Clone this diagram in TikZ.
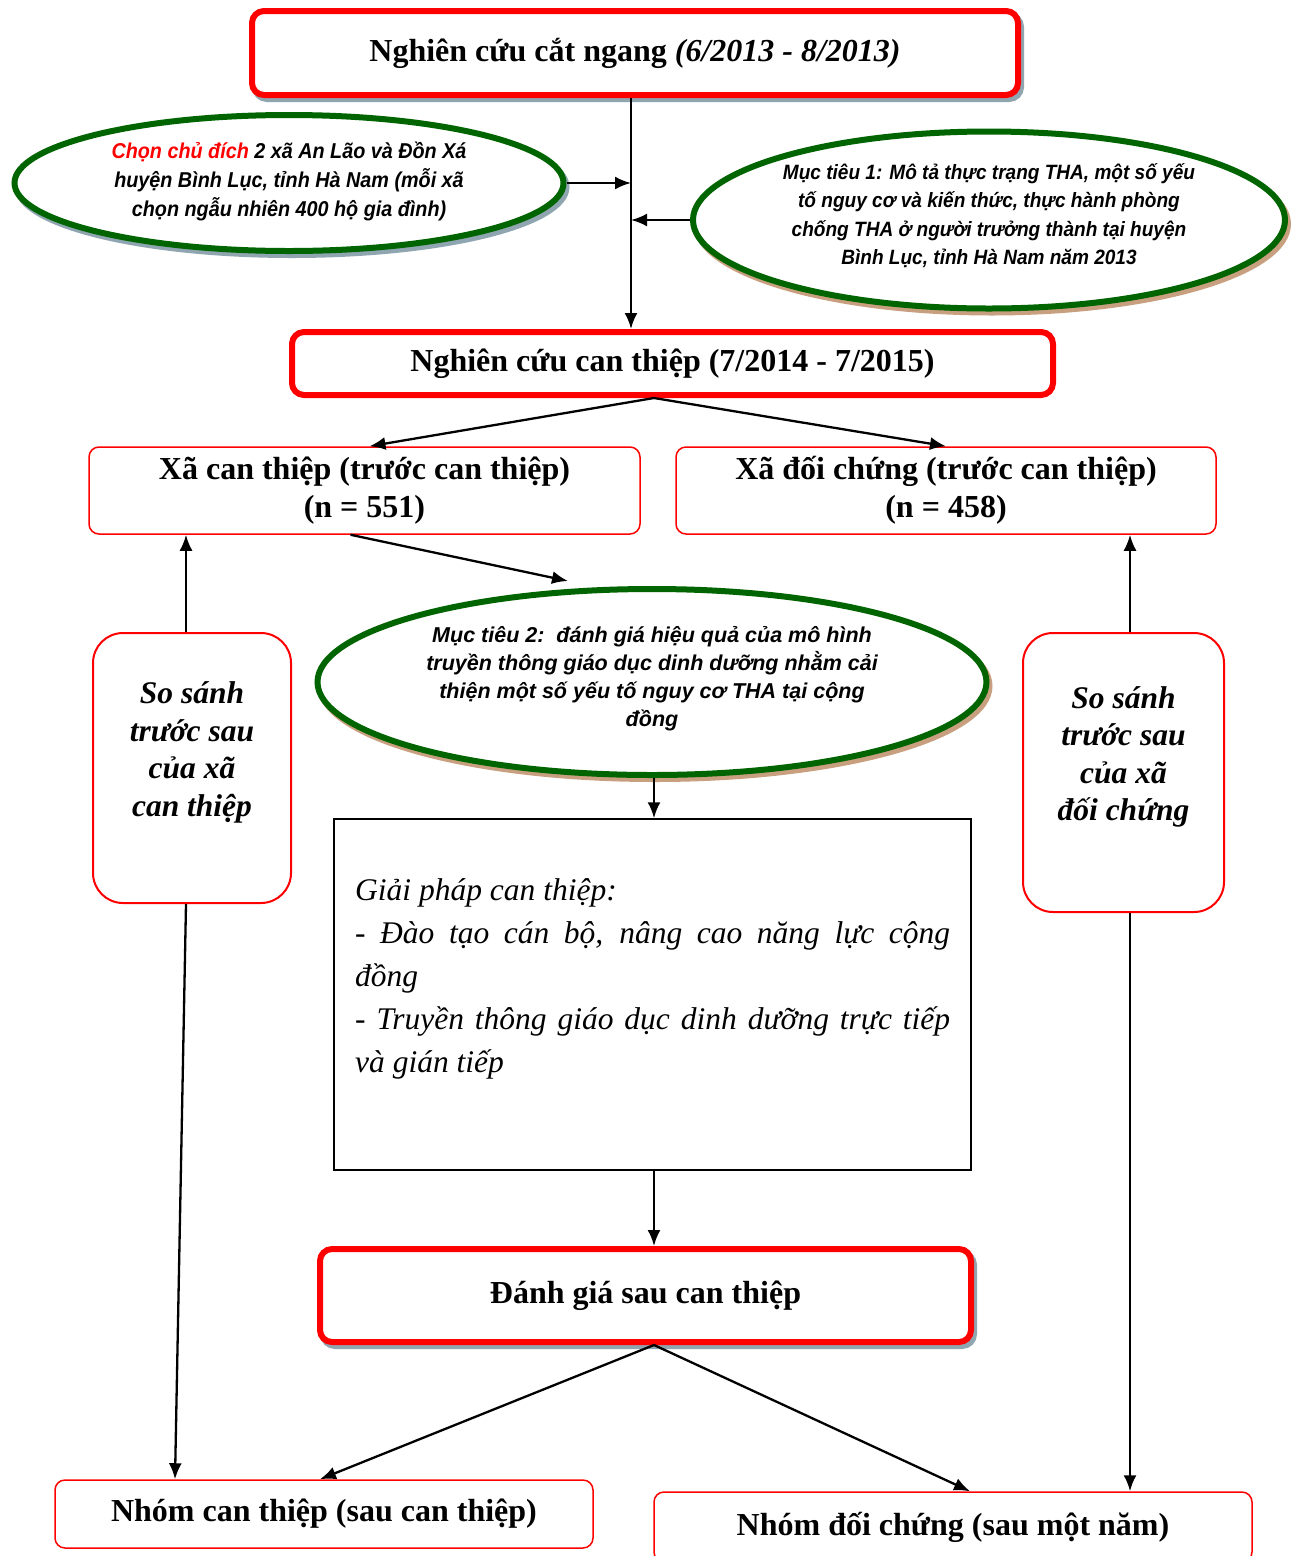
\documentclass[tikz,border=0pt]{standalone}
\usepackage{fontspec}
\setmainfont{Liberation Serif}
\newfontfamily\ellfont{Liberation Sans}[FakeStretch=0.92]
\newfontfamily\ellfontw{Liberation Sans}
\usetikzlibrary{shapes.geometric,arrows.meta}
\definecolor{dgreen}{RGB}{0,100,0}
\definecolor{shgrey}{RGB}{143,165,176}
\definecolor{shtan}{RGB}{200,160,128}
\begin{document}
\begin{tikzpicture}[x=1pt,y=-1pt,
  thickbox/.style={draw=red, line width=6pt, rounded corners=12pt, fill=white, inner sep=0pt,
    text height=23pt, text depth=7pt, font=\bfseries\fontsize{32}{38}\selectfont},
  greyshadow/.style={preaction={draw=shgrey, line width=6pt, transform canvas={shift={(3pt,-4pt)}}}},
  tanshadow/.style={preaction={draw=shtan, line width=6pt, transform canvas={shift={(3pt,-4pt)}}}},
  ell/.style={ellipse, draw=dgreen, line width=6pt, fill=white, inner sep=0pt, align=center},
  thinbox/.style={draw=red, line width=1.5pt, rounded corners=10pt, inner sep=0pt, align=center,
    font=\bfseries\fontsize{32}{38}\selectfont},
  sidebox/.style={draw=red, line width=2pt, rounded corners=30pt, inner sep=0pt, align=center,
    font=\bfseries\itshape\fontsize{31.5}{37.5}\selectfont},
  arr/.style={-{Latex[length=16pt,width=13pt]}, line width=2.3pt}]
\clip (0,0) rectangle (1302,1556);
\fill[white] (0,0) rectangle (1302,1556);

% nodes
\node[thickbox, greyshadow, minimum width=766pt, minimum height=84pt] (top) at (635,53)
  {Nghiên cứu cắt ngang \textit{(6/2013 - 8/2013)}};
\node[ell, greyshadow, minimum width=549pt, minimum height=136pt,
  font=\ellfont\bfseries\itshape\fontsize{21.5}{29}\selectfont] (e1) at (289,183)
  {{\color{red}Chọn chủ đích} 2 xã An Lão và Đồn Xá\\huyện Bình Lục, tỉnh Hà Nam (mỗi xã\\chọn ngẫu nhiên 400 hộ gia đình)\\[-21pt]\mbox{}};
\node[ell, tanshadow, minimum width=592pt, minimum height=177pt,
  font=\ellfont\bfseries\itshape\fontsize{20.7}{28.5}\selectfont] (e2) at (989,220)
  {Mục tiêu 1: Mô tả thực trạng THA, một số yếu\\tố nguy cơ và kiến thức, thực hành phòng\\chống THA ở người trưởng thành tại huyện\\Bình Lục, tỉnh Hà Nam năm 2013\\[-16.5pt]\mbox{}};
\node[thickbox, minimum width=761pt, minimum height=63pt] (box2) at (672.5,363.5)
  {Nghiên cứu can thiệp (7/2014 - 7/2015)};
\node[thinbox, minimum width=551pt, minimum height=87pt] (xa) at (364.5,490.5)
  {Xã can thiệp (trước can thiệp)\\(n = 551)};
\node[thinbox, minimum width=540pt, minimum height=87pt] (xd) at (946,490.5)
  {Xã đối chứng (trước can thiệp)\\(n = 458)};
\node[ell, tanshadow, minimum width=669pt, minimum height=186pt,
  font=\ellfontw\bfseries\itshape\fontsize{21.5}{28}\selectfont] (e3) at (652,682)
  {Mục tiêu 2:\ \ đánh giá hiệu quả của mô hình\\truyền thông giáo dục dinh dưỡng nhằm cải\\thiện một số yếu tố nguy cơ THA tại cộng\\đồng\\[-16pt]\mbox{}};
\node[sidebox, minimum width=198pt, minimum height=270pt] (sl) at (192,768)
  {So sánh\\trước sau\\của xã\\can thiệp\\\mbox{}};
\node[sidebox, minimum width=201pt, minimum height=279pt] (sr) at (1123.5,772.5)
  {So sánh\\trước sau\\của xã\\đối chứng\\\mbox{}};
\node[draw, line width=1.5pt, minimum width=637pt, minimum height=351pt, inner sep=0pt] (sol) at (652.5,994.5) {};
\node[anchor=north west, text width=595pt, align=justify, inner sep=0pt,
  font=\itshape\fontsize{31.5}{43}\selectfont] (soltxt) at (355,878)
  {Giải pháp can thiệp:\\- Đào tạo cán bộ, nâng cao năng lực cộng\linebreak đồng\\- Truyền thông giáo dục dinh dưỡng trực tiếp\linebreak và gián tiếp};
\node[thickbox, greyshadow, minimum width=651pt, minimum height=93pt] (eval) at (645.5,1295.5)
  {Đánh giá sau can thiệp};
\node[thinbox, minimum width=538pt, minimum height=68pt] (nc) at (324,1514)
  {Nhóm can thiệp (sau can thiệp)};
\node[thinbox, minimum width=598pt, minimum height=70pt] (nd) at (953,1527)
  {Nhóm đối chứng (sau một năm)};

% helper coordinates
\coordinate (vx) at (631,0);
\coordinate (mx) at (654,0);
\coordinate (lx) at (186,0);
\coordinate (lx2) at (175,0);
\coordinate (rx) at (1130,0);
\coordinate (t3) at (568,581);

% connectors
\draw[arr] (top.south -| vx) -- (box2.north -| vx);
\draw[arr] (e1.east) -- (e1.east -| vx);
\draw[arr] (e2.west) -- (e2.west -| vx);
\draw[arr] (box2.south -| mx) -- ([xshift=5pt]xa.north);
\draw[arr] (box2.south -| mx) -- (xd.north);
\draw[arr] ([xshift=-14pt]xa.south) -- (t3);
\draw[arr] (e3.south -| mx) -- (sol.north -| mx);
\draw[arr] (sol.south -| mx) -- (eval.north -| mx);
\draw[arr] (eval.south -| mx) -- ([xshift=-4pt]nc.north);
\draw[arr] (eval.south -| mx) -- ([xshift=17pt]nd.north);
\draw[arr] (sl.north -| lx) -- (xa.south -| lx);
\draw[arr] (sl.south -| lx) -- (nc.north -| lx2);
\draw[arr] (sr.north -| rx) -- (xd.south -| rx);
\draw[arr] (sr.south -| rx) -- (nd.north -| rx);
\end{tikzpicture}
\end{document}
